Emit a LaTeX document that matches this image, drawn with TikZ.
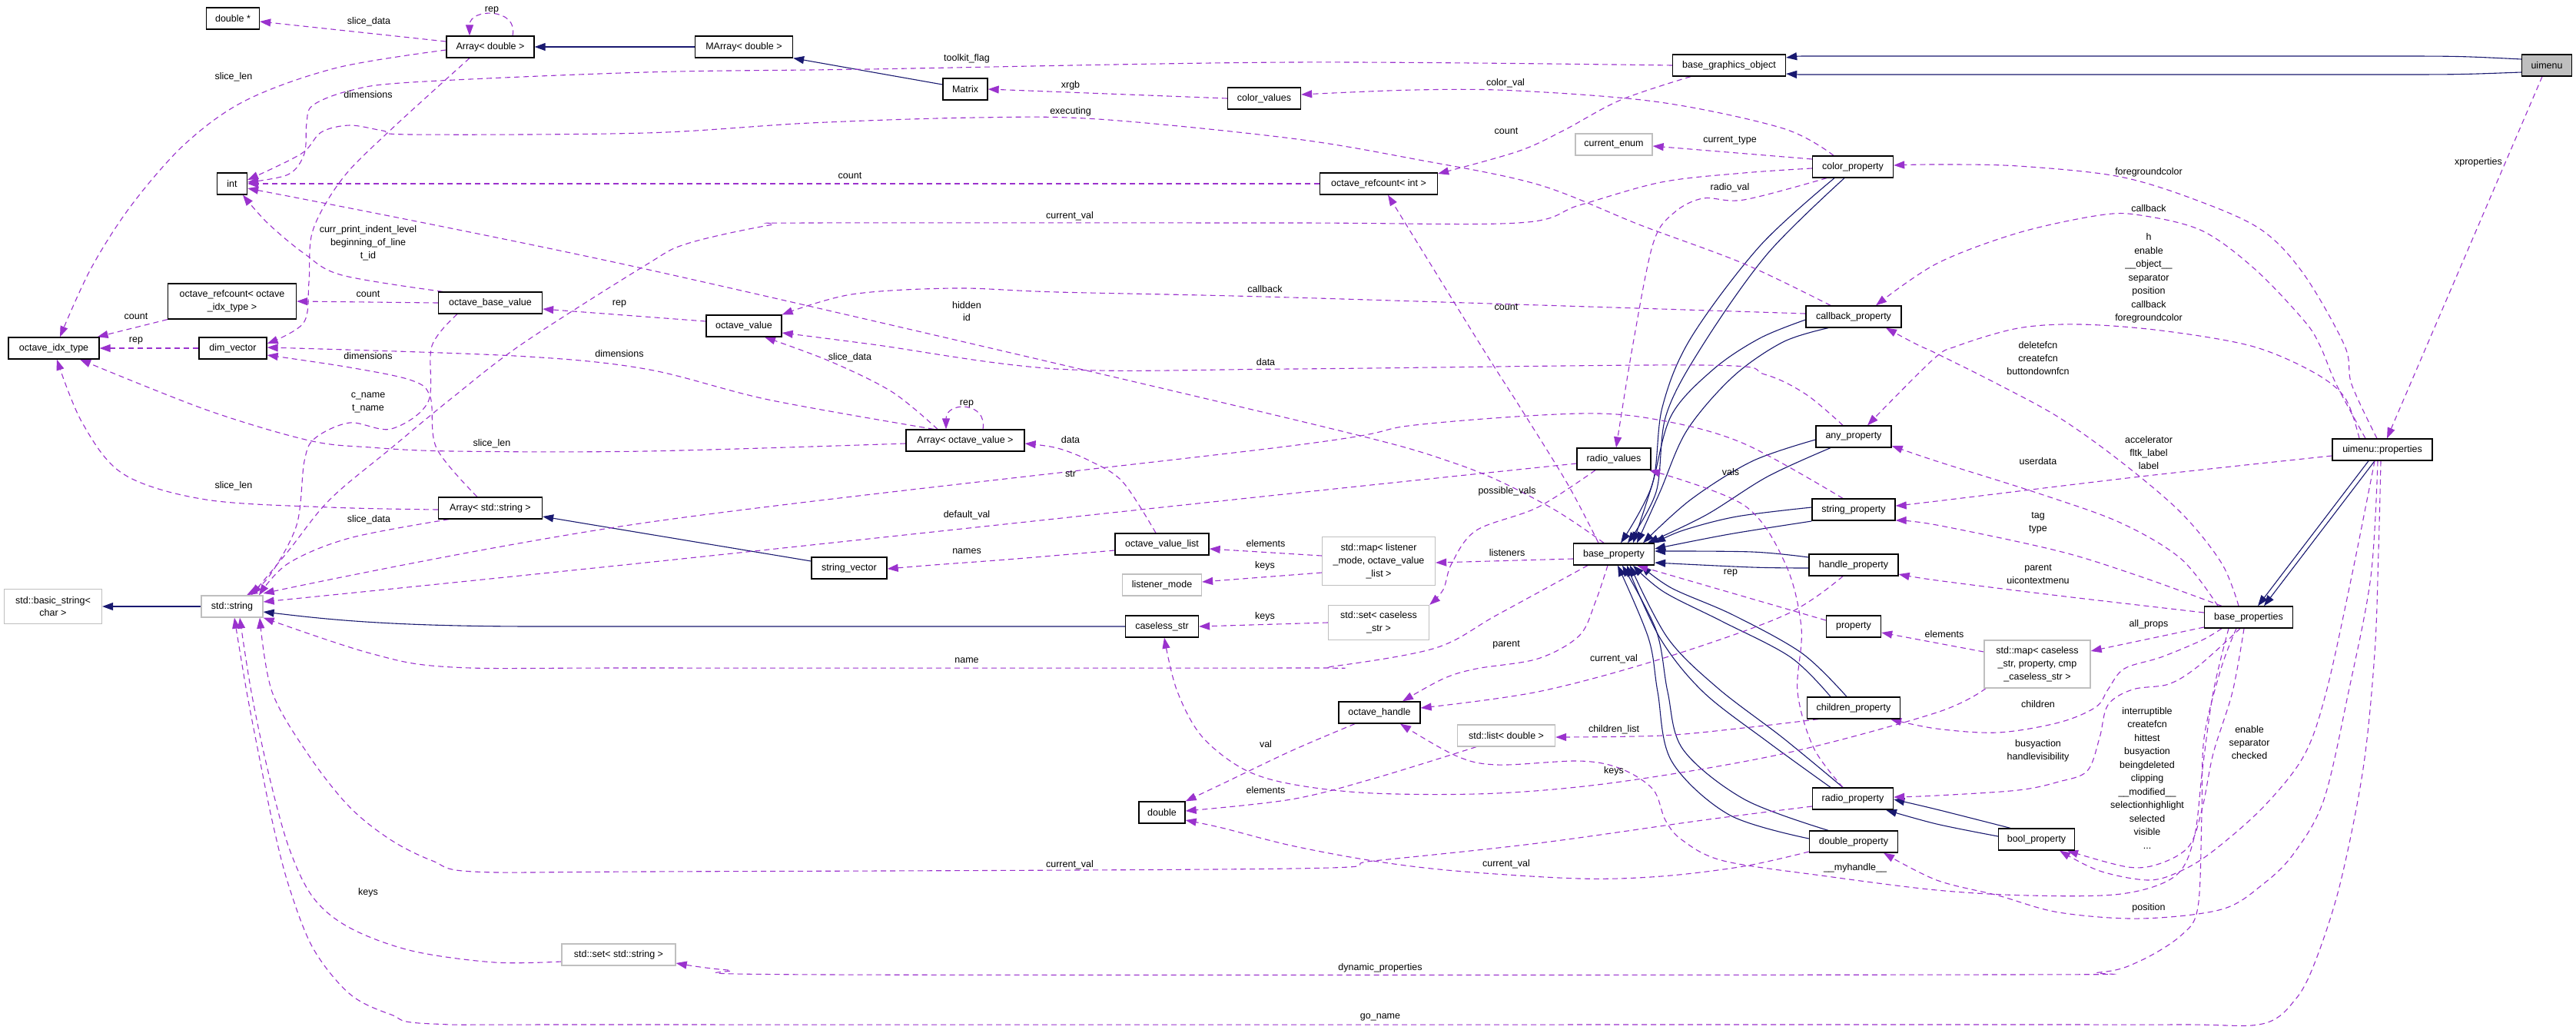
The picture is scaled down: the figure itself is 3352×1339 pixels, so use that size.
\documentclass[tikz,border=0pt]{standalone}
\usepackage{fontspec}
\setmainfont{Liberation Sans}
\usetikzlibrary{arrows.meta,backgrounds}
\definecolor{navyc}{HTML}{191970}
\definecolor{orchidc}{HTML}{9A32CD}
\definecolor{greyc}{HTML}{BFBFBF}
\newcommand{\dgfont}{\fontsize{12.5}{16.8}\selectfont}
\begin{document}
\begin{tikzpicture}[x=1pt,y=-1pt,font=\dgfont,
  cls/.style={draw=black,line width=1.3pt,fill=white,minimum height=28pt,inner sep=2pt,align=center},
  ucls/.style={cls,draw=greyc},
  inh/.style={draw=navyc,line width=1.1pt,-{Triangle[length=14pt,width=10pt]}},
  dep/.style={draw=orchidc,line width=1.1pt,dash pattern=on 7pt off 5pt,-{Triangle[length=14pt,width=10pt]}},
  lab/.style={inner sep=0pt,align=center},
  sm/.style={smooth,tension=0.55}]
\useasboundingbox (0,0) rectangle (3352,1339);

% ---------------- nodes ----------------
\node[cls,minimum width=69pt] (dstar) at (303,24) {double *};
\node[cls,minimum width=114pt] (arrd) at (638,61) {Array< double >};
\node[cls,minimum width=127pt] (marr) at (968,61) {MArray< double >};
\node[cls,minimum width=58pt] (matrix) at (1256,116) {Matrix};
\node[cls,minimum width=95pt] (colv) at (1645,128) {color\_values};
\node[cls,minimum width=147pt] (bgo) at (2250,85) {base\_graphics\_object};
\node[cls,minimum width=65pt,fill=greyc] (uimenu) at (3314,85) {uimenu};
\node[cls,minimum width=39pt] (int) at (302,239) {int};
\node[ucls,minimum width=100pt] (curenum) at (2100,188) {current\_enum};
\node[cls,minimum width=153pt] (rcint) at (1794,239) {octave\_refcount< int >};
\node[cls,minimum width=105pt] (colp) at (2411,217) {color\_property};
\node[cls,minimum width=167pt,minimum height=46pt] (rcidx) at (302,392) {octave\_refcount< octave\\\_idx\_type >};
\node[cls,minimum width=135pt] (obv) at (638,394) {octave\_base\_value};
\node[cls,minimum width=98pt] (ov) at (968,424) {octave\_value};
\node[cls,minimum width=124pt] (cbp) at (2412,412) {callback\_property};
\node[cls,minimum width=118pt] (idx) at (70,453) {octave\_idx\_type};
\node[cls,minimum width=88pt] (dimv) at (303,453) {dim\_vector};
\node[cls,minimum width=154pt] (aov) at (1256,573) {Array< octave\_value >};
\node[cls,minimum width=98pt] (anyp) at (2412,568) {any\_property};
\node[cls,minimum width=130pt] (uprops) at (3100,585) {uimenu::properties};
\node[cls,minimum width=96pt] (rv) at (2100,597) {radio\_values};
\node[cls,minimum width=135pt] (astr) at (638,661) {Array< std::string >};
\node[cls,minimum width=108pt] (strp) at (2412,663) {string\_property};
\node[cls,minimum width=122pt] (ovl) at (1512,708) {octave\_value\_list};
\node[cls,minimum width=105pt] (bp) at (2100,721) {base\_property};
\node[ucls,minimum width=147pt,minimum height=63pt] (lmap) at (1794,730) {std::map< listener\\\_mode, octave\_value\\\_list >};
\node[cls,minimum width=116pt] (hp) at (2412,735) {handle\_property};
\node[cls,minimum width=98pt] (sv) at (1105,739) {string\_vector};
\node[ucls,minimum width=103pt] (lm) at (1512,761) {listener\_mode};
\node[ucls,minimum width=127pt,minimum height=45pt] (bstr) at (69,789) {std::basic\_string<\\char >};
\node[ucls,minimum width=80pt] (str) at (302,789) {std::string};
\node[cls,minimum width=115pt] (bprops) at (2926,803) {base\_properties};
\node[cls,minimum width=95pt] (cstr) at (1512,815) {caseless\_str};
\node[ucls,minimum width=131pt,minimum height=45pt] (cset) at (1794,810) {std::set< caseless\\\_str >};
\node[cls,minimum width=71pt] (prop) at (2412,815) {property};
\node[ucls,minimum width=138pt,minimum height=62pt] (pmap) at (2651,864) {std::map< caseless\\\_str, property, cmp\\\_caseless\_str >};
\node[cls,minimum width=106pt] (oh) at (1795,927) {octave\_handle};
\node[cls,minimum width=121pt] (chp) at (2412,921) {children\_property};
\node[ucls,minimum width=127pt] (list) at (1960,957) {std::list< double >};
\node[cls,minimum width=105pt] (rp) at (2411,1039) {radio\_property};
\node[cls,minimum width=60pt] (dbl) at (1512,1057) {double};
\node[cls,minimum width=99pt] (bool) at (2650,1092) {bool\_property};
\node[cls,minimum width=115pt] (dp) at (2412,1095) {double\_property};
\node[ucls,minimum width=148pt] (sset) at (805,1242) {std::set< std::string >};

\begin{scope}[on background layer]
\fill[white] (0,0) rectangle (3352,1339);
% inheritance
\draw[inh] (marr.west) -- (arrd.east);
\draw[inh] ([yshift=6pt]matrix.west) -- (marr.south east);
\draw[inh] ([yshift=8pt]uimenu.west) .. controls (3200,73) .. (3100,73) -- (2380,73) .. controls (2340,73) .. ([yshift=10pt]bgo.east);
\draw[inh] ([yshift=-9pt]uimenu.west) .. controls (3200,97) .. (3100,97) -- (2380,97) .. controls (2340,97) .. ([yshift=-11pt]bgo.east);
\draw[inh] (str.west) -- (bstr.east);
\draw[inh] (cstr.west) -- (700,815) .. controls (500,815) and (420,805) .. ([yshift=-7pt]str.east);
\draw[inh] ([yshift=9pt]sv.west) -- ([yshift=-11pt]astr.east);
\draw[inh] plot[sm] coordinates {([xshift=-24pt]colp.south) (2290,320) (2200,440) (2163,530) (2150,630) ([xshift=9pt]bp.north)};
\draw[inh] plot[sm] coordinates {([xshift=-11pt]colp.south) (2300,330) (2215,450) (2168,540) (2155,640) ([xshift=18pt]bp.north)};
\draw[inh] plot[sm] coordinates {([yshift=-4pt]cbp.west) (2290,440) (2230,480) (2175,540) (2150,630) ([xshift=25pt]bp.north)};
\draw[inh] plot[sm] coordinates {([xshift=-33pt]cbp.south) (2320,445) (2255,490) (2195,560) (2160,640) ([xshift=30pt]bp.north)};
\draw[inh] plot[sm] coordinates {([yshift=-4pt]anyp.west) (2280,600) (2200,650) ([xshift=38pt]bp.north)};
\draw[inh] plot[sm] coordinates {([xshift=-30pt]anyp.south) (2300,620) (2220,670) ([xshift=44pt]bp.north)};
\draw[inh] plot[sm] coordinates {([yshift=3pt]strp.west) (2260,672) (2190,690) (bp.north east)};
\draw[inh] plot[sm] coordinates {([yshift=-15pt]strp.west) (2250,695) ([yshift=7pt]bp.east)};
\draw[inh] plot[sm] coordinates {([yshift=10pt]hp.west) (2280,718) ([yshift=4pt]bp.east)};
\draw[inh] plot[sm] coordinates {([yshift=-4pt]hp.west) (2280,738) ([yshift=-11pt]bp.east)};
\draw[inh] plot[sm] coordinates {([xshift=-30pt]chp.north) (2330,855) (2240,808) (2165,770) ([xshift=25pt]bp.south)};
\draw[inh] plot[sm] coordinates {([xshift=-9pt]chp.north) (2345,850) (2255,800) (2175,765) ([xshift=35pt]bp.south)};
\draw[inh] plot[sm] coordinates {([xshift=-29pt]rp.north) (2300,965) (2216,900) (2160,830) ([xshift=17pt]bp.south)};
\draw[inh] plot[sm] coordinates {([xshift=-13pt]rp.north) (2320,960) (2235,895) (2170,830) ([xshift=21pt]bp.south)};
\draw[inh] plot[sm] coordinates {([yshift=4pt]dp.west) (2250,1060) (2175,990) (2157,900) (2145,830) ([xshift=5pt]bp.south)};
\draw[inh] plot[sm] coordinates {([xshift=-33pt]dp.north) (2270,1040) (2190,975) (2170,900) (2155,820) ([xshift=11pt]bp.south)};
\draw[inh] plot[sm] coordinates {([xshift=-34pt]bool.north) (2520,1053) ([yshift=-1pt]rp.east)};
\draw[inh] plot[sm] coordinates {([yshift=4pt]bool.west) (2520,1072) ([xshift=43pt]rp.south)};
\draw[inh] ([xshift=-18pt]uprops.south) -- ([xshift=12pt]bprops.north);
\draw[inh] ([xshift=-10pt]uprops.south) -- ([xshift=20pt]bprops.north);

% usage (dashed)
\draw[dep] ([yshift=7pt]arrd.west) -- ([yshift=-4pt]dstar.east);
\draw[dep] ([xshift=29pt]arrd.north) .. controls (675,10) and (611,10) .. ([xshift=-27pt]arrd.north);
\draw[dep] plot[sm] coordinates {([yshift=-4pt]arrd.west) (439,88) (321,130) (241,187) (171,267) (118,350) ([xshift=8pt]idx.north)};
\draw[dep] plot[sm] coordinates {([xshift=-27pt]arrd.south) (504,173) (445,233) (407,300) (402,367) (395,420) ([yshift=6pt]dimv.east)};
\draw[dep] plot[sm] coordinates {(bgo.west) (1680,81) (1129,90) (840,94) (536,107) (455,118) (407,137) (399,160) (396,200) (375,227) ([yshift=2pt]int.east)};
\draw[dep] plot[sm] coordinates {([xshift=-30pt]cbp.north) (2269,343) (2135,293) (2001,240) (1841,207) (1680,180) (1429,155) (1269,153) (1054,160) (840,173) (536,175) (498,170) (455,163) (418,172) (392,200) ([yshift=5pt]int.east)};
\draw[dep] (rcint.west) -- (int.east);
\draw[dep] plot[sm] coordinates {([xshift=-62pt]obv.north) (445,358) (396,330) (348,290) ([xshift=14pt]int.south)};
\draw[dep] plot[sm] coordinates {([xshift=-13pt]bp.north) (2012,657) (1894,603) (1680,545) (840,350) ([yshift=-6pt]int.east)};
\draw[dep] (obv.west) -- (rcidx.east);
\draw[dep] (rcidx.south west) -- ([xshift=-3pt]idx.north east);
\draw[dep] (dimv.west) -- (idx.east);
\draw[dep] ([yshift=6pt]ov.west) -- ([yshift=-8pt]obv.east);
\draw[dep] plot[sm] coordinates {([xshift=-43pt]obv.south) (562,450) (557,523) (509,558) (455,550) (410,570) (396,600) (386,683) (350,750) ([xshift=19pt]str.north)};
\draw[dep] plot[sm] coordinates {([xshift=-17pt]astr.north) (568,583) (560,517) (536,495) (455,478) ([yshift=-9pt]dimv.east)};
\draw[dep] plot[sm] coordinates {([xshift=-41pt]aov.north) (1000,520) (840,480) (670,463) ([yshift=1pt]dimv.east)};
\draw[dep] plot[sm] coordinates {([xshift=-36pt]aov.north) (1161,510) (1080,470) ([xshift=27pt]ov.south)};
\draw[dep] ([xshift=23pt]aov.north) .. controls (1285,522) and (1231,522) .. ([xshift=-25pt]aov.north);
\draw[dep] plot[sm] coordinates {([yshift=-4pt]aov.west) (840,587) (589,587) (482,582) (402,573) (268,533) ([xshift=34pt]idx.south)};
\draw[dep] plot[sm] coordinates {([yshift=-2pt]astr.west) (429,660) (268,650) (161,617) (107,550) ([xshift=4pt]idx.south)};
\draw[dep] plot[sm] coordinates {([xshift=-54pt]astr.south) (455,700) (375,733) ([xshift=35pt]str.north)};
\draw[dep] plot[sm] coordinates {([yshift=-2pt]colp.west) (2269,225) (2162,237) (2055,267) (1975,290) (1680,290) (1054,290) (1001,293) (894,317) (840,345) (680,447) (589,517) (509,583) (429,650) (375,717) ([xshift=25pt]str.north)};
\draw[dep] plot[sm] coordinates {([xshift=-34pt]colp.south) (2269,260) (2216,258) (2178,277) (2151,317) (2125,447) ([xshift=3pt]rv.north)};
\draw[dep] plot[sm] coordinates {([xshift=-25pt]colp.north) (2320,167) (2160,133) (1973,118) (1840,117) ([yshift=5pt]colv.east)};
\draw[dep] ([yshift=10pt]colp.west) -- ([yshift=-2pt]curenum.east);
\draw[dep] plot[sm] coordinates {([xshift=-50pt]bgo.south) (2109,130) (2034,170) (1975,197) ([yshift=13pt]rcint.east)};
\draw[dep] (colv.west) -- (matrix.east);
\draw[dep] plot[sm] coordinates {([xshift=-20pt]bp.north) (2040,630) (1980,533) (1926,448) ([xshift=12pt]rcint.south)};
\draw[dep] plot[sm] coordinates {([yshift=4pt]cbp.west) (1680,387) (1376,380) (1242,375) (1108,383) (ov.north east)};
\draw[dep] plot[sm] coordinates {([xshift=-14pt]anyp.north) (2350,513) (2296,487) (2216,475) (1680,480) (1376,480) (1135,448) ([yshift=-9pt]ov.east)};
\draw[dep] plot[sm] coordinates {([xshift=-8pt]ovl.north) (1461,627) (1419,600) (1376,583) ([yshift=-4pt]aov.east)};
\draw[dep] plot[sm] coordinates {([yshift=-8pt]ovl.west) (1322,727) (1215,735) ([yshift=-1pt]sv.east)};
\draw[dep] plot[sm] coordinates {([xshift=-14pt]strp.north) (2269,577) (2162,547) (2055,538) (1841,553) (1680,580) (840,680) ([yshift=17pt]str.east)};
\draw[dep] plot[sm] coordinates {([yshift=-6pt]rv.west) (1680,642) (840,732) ([yshift=6pt]str.east)};
\draw[dep] plot[sm] coordinates {([xshift=-34pt]bp.south) (1948,800) (1868,843) (1734,867) (1680,869) (840,869) (589,868) (482,850) (str.south east)};
\draw[dep] ([yshift=-6pt]bp.west) -- ([yshift=-2pt]lmap.east);
\draw[dep] plot[sm] coordinates {([xshift=-24pt]rv.south) (2001,660) (1921,690) (1889,733) (1878,767) (cset.north east)};
\draw[dep] ([yshift=-15pt]lmap.west) -- ([yshift=4pt]lm.east);
\draw[dep] ([yshift=7pt]lmap.west) -- ([yshift=-6pt]ovl.east);
\draw[dep] (cset.west) -- (cstr.east);
\draw[dep] plot[sm] coordinates {([xshift=-67pt]pmap.south) (2520,927) (2323,980) (2109,1017) (1948,1032) (1787,1032) (1680,1020) (1617,1000) (1563,957) (1531,897) ([xshift=3pt]cstr.south)};
\draw[dep] ([yshift=-13pt]bprops.west) -- ([yshift=17pt]pmap.east);
\draw[dep] ([yshift=16pt]pmap.west) -- ([yshift=-8pt]prop.east);
\draw[dep] ([yshift=8pt]prop.west) -- ([xshift=30pt]bp.south);
\draw[dep] plot[sm] coordinates {([xshift=-13pt]rp.north) (2360,973) (2339,900) (2344,817) (2323,733) (2269,657) ([xshift=46pt]rv.south)};
\draw[dep] plot[sm] coordinates {([xshift=-14pt]hp.south) (2323,800) (2162,857) (2001,900) ([yshift=6pt]oh.east)};
\draw[dep] plot[sm] coordinates {([xshift=-8pt]bp.south) (2076,783) (2055,827) (2001,857) (1921,870) (1878,883) ([xshift=30pt]oh.north)};
\draw[dep] plot[sm] coordinates {([xshift=-46pt]chp.south) (2269,947) (2162,957) ([yshift=-2pt]list.east)};
\draw[dep] plot[sm] coordinates {([xshift=-32pt]oh.south) (1680,977) (1590,1020) (dbl.north east)};
\draw[dep] plot[sm] coordinates {([xshift=-39pt]list.south) (1787,1013) (1680,1040) ([yshift=2pt]dbl.east)};
\draw[dep] plot[sm] coordinates {([yshift=-13pt]dp.west) (2269,1127) (2162,1140) (2055,1143) (1894,1133) (1787,1120) (1680,1100) (1590,1077) ([yshift=-10pt]dbl.east)};
\draw[dep] plot[sm] coordinates {([yshift=-10pt]rp.west) (2216,1067) (2001,1097) (1787,1120) (1680,1130) (840,1134) (616,1134) (563,1120) (509,1093) (455,1050) (402,983) (354,900) ([xshift=36pt]str.south)};
\draw[dep] plot[sm] coordinates {([yshift=-9pt]sset.west) (643,1252) (536,1237) (455,1207) (407,1167) (375,1100) (348,1000) (327,900) ([xshift=10pt]str.south)};
\draw[dep] plot[sm] coordinates {([xshift=-2pt]uprops.south) (3095,717) (3090,850) (3075,1000) (3045,1150) (3013,1250) (2987,1300) (2944,1332) (2838,1333) (2520,1333) (840,1333) (563,1332) (509,1320) (455,1293) (407,1233) (375,1150) (354,1067) (337,983) (321,900) ([xshift=3pt]str.south)};
\draw[dep] plot[sm] coordinates {([xshift=-16pt]bprops.south) (2890,870) (2868,960) (2865,1060) (2860,1180) (2838,1217) (2785,1250) (2732,1265) (2600,1268) (1081,1268) (947,1262) ([yshift=-11pt]sset.east)};
\draw[dep] plot[sm] coordinates {([xshift=-6pt]bprops.south) (2905,900) (2880,980) (2866,1050) (2849,1100) (2812,1123) (2769,1128) ([xshift=40pt]bool.south)};
\draw[dep] plot[sm] coordinates {([xshift=-10pt]uprops.south) (3060,750) (3027,900) (2998,983) (2945,1050) (2880,1107) (2838,1133) (2796,1145) (2732,1133) ([xshift=30pt]bool.south)};
\draw[dep] plot[sm] coordinates {([xshift=-6pt]uprops.south) (3085,750) (3056,900) (3024,1040) (2985,1110) (2945,1150) (2891,1183) (2785,1195) (2679,1187) (2600,1165) (2520,1145) ([xshift=39pt]dp.south)};
\draw[dep] plot[sm] coordinates {([xshift=-26pt]bprops.south) (2880,900) (2866,1000) (2855,1090) (2830,1140) (2760,1163) (2640,1165) (2520,1158) (2377,1140) (2243,1120) (2189,1093) (2167,1067) (2151,1027) (2109,1000) (2055,990) (1948,995) (1894,983) ([xshift=27pt]oh.south)};
\draw[dep] plot[sm] coordinates {([xshift=-11pt]bprops.south) (2860,867) (2822,890) (2775,897) (2743,917) (2732,960) (2716,1003) (2679,1017) (2626,1028) (2520,1035) ([yshift=2pt]rp.east)};
\draw[dep] plot[sm] coordinates {([xshift=-35pt]bprops.south) (2865,833) (2812,855) (2764,870) (2743,897) (2727,920) (2679,940) (2600,953) (2520,948) ([xshift=48pt]chp.south)};
\draw[dep] plot[sm] coordinates {([xshift=-13pt]bprops.north) (2891,733) (2838,667) (2759,600) (2679,543) (2600,500) (2520,460) (2494,448) ([xshift=42pt]cbp.south)};
\draw[dep] plot[sm] coordinates {([xshift=-40pt]bprops.north) (2838,727) (2759,680) (2653,642) (2520,600) ([yshift=-12pt]anyp.east)};
\draw[dep] plot[sm] coordinates {([xshift=-35pt]bprops.north) (2785,750) (2679,717) (2520,683) ([yshift=-14pt]strp.east)};
\draw[dep] plot[sm] coordinates {([yshift=6pt]bprops.west) (2679,775) (2520,755) ([yshift=-12pt]hp.east)};
\draw[dep] plot[sm] coordinates {([yshift=-8pt]uprops.west) (2785,620) (2520,652) ([yshift=5pt]strp.east)};
\draw[dep] plot[sm] coordinates {([xshift=-7pt]uprops.north) (3060,500) (3051,450) (2998,357) (2944,300) (2865,263) (2759,230) (2626,216) (2520,214) ([yshift=2pt]colp.east)};
\draw[dep] plot[sm] coordinates {([xshift=-22pt]uprops.north) (3040,500) (3019,450) (2998,417) (2934,350) (2865,300) (2785,280) (2732,280) (2626,303) (2520,343) ([xshift=29pt]cbp.north)};
\draw[dep] plot[sm] coordinates {([xshift=-30pt]uprops.north) (3051,517) (3008,483) (2929,450) (2812,430) (2706,422) (2626,427) (2547,450) (2515,468) ([xshift=18pt]anyp.north)};
\draw[dep] ([xshift=-6pt]uimenu.south) -- ([xshift=6pt]uprops.north);
\end{scope}

% ---------------- edge labels ----------------
\node[lab] (t1) at (480,28) {slice\_data};
\node[lab] (t2) at (640,13) {rep};
\node[lab] (t3) at (304,100) {slice\_len};
\node[lab] (t4) at (479,123) {dimensions};
\node[lab] (t5) at (1258,76) {toolkit\_flag};
\node[lab] (t6) at (1393,145) {executing};
\node[lab] (t7) at (1106,229) {count};
\node[lab] (t8) at (479,316) {curr\_print\_indent\_level\\beginning\_of\_line\\t\_id};
\node[lab] (t9) at (1258,405) {hidden\\id};
\node[lab] (t10) at (479,383) {count};
\node[lab] (t11) at (177,412) {count};
\node[lab] (t12) at (177,443) {rep};
\node[lab] (t13) at (806,395) {rep};
\node[lab] (t14) at (479,524) {c\_name\\t\_name};
\node[lab] (t15) at (479,463) {dimensions};
\node[lab] (t16) at (806,460) {dimensions};
\node[lab] (t17) at (1106,465) {slice\_data};
\node[lab] (t18) at (1258,525) {rep};
\node[lab] (t19) at (640,577) {slice\_len};
\node[lab] (t20) at (304,632) {slice\_len};
\node[lab] (t21) at (480,676) {slice\_data};
\node[lab] (t22) at (1392,281) {current\_val};
\node[lab] (t23) at (2251,244) {radio\_val};
\node[lab] (t24) at (1959,108) {color\_val};
\node[lab] (t25) at (2251,183) {current\_type};
\node[lab] (t26) at (1960,171) {count};
\node[lab] (t27) at (1393,111) {xrgb};
\node[lab] (t28) at (1960,400) {count};
\node[lab] (t29) at (1646,376) {callback};
\node[lab] (t30) at (1647,471) {data};
\node[lab] (t31) at (1393,572) {data};
\node[lab] (t32) at (1258,717) {names};
\node[lab] (t33) at (1393,617) {str};
\node[lab] (t34) at (1258,670) {default\_val};
\node[lab] (t35) at (1258,859) {name};
\node[lab] (t36) at (1961,719) {listeners};
\node[lab] (t37) at (1961,639) {possible\_vals};
\node[lab] (t38) at (1646,736) {keys};
\node[lab] (t39) at (1647,707) {elements};
\node[lab] (t40) at (1646,802) {keys};
\node[lab] (t41) at (2100,1003) {keys};
\node[lab] (t42) at (2796,812) {all\_props};
\node[lab] (t43) at (2530,825) {elements};
\node[lab] (t44) at (2252,745) {rep};
\node[lab] (t45) at (2252,614) {vals};
\node[lab] (t46) at (2100,857) {current\_val};
\node[lab] (t47) at (1960,839) {parent};
\node[lab] (t48) at (2100,949) {children\_list};
\node[lab] (t49) at (1647,968) {val};
\node[lab] (t50) at (1647,1028) {elements};
\node[lab] (t51) at (1960,1124) {current\_val};
\node[lab] (t52) at (1392,1125) {current\_val};
\node[lab] (t53) at (479,1161) {keys};
\node[lab] (t54) at (1796,1323) {go\_name};
\node[lab] (t55) at (1796,1259) {dynamic\_properties};
\node[lab] (t56) at (2414,1129) {\_\_myhandle\_\_};
\node[lab] (t57) at (2796,1181) {position};
\node[lab] (t58) at (2927,966) {enable\\separator\\checked};
\node[lab,font=\fontsize{12.5}{17.5}\selectfont] (t59) at (2794,1012) {interruptible\\createfcn\\hittest\\busyaction\\beingdeleted\\clipping\\\_\_modified\_\_\\selectionhighlight\\selected\\visible\\...};
\node[lab] (t60) at (2652,977) {busyaction\\handlevisibility};
\node[lab] (t61) at (2652,916) {children};
\node[lab] (t62) at (2652,747) {parent\\uicontextmenu};
\node[lab] (t63) at (2652,680) {tag\\type};
\node[lab] (t64) at (2652,600) {userdata};
\node[lab] (t65) at (2796,589) {accelerator\\fltk\_label\\label};
\node[lab] (t66) at (2652,466) {deletefcn\\createfcn\\buttondownfcn};
\node[lab,font=\fontsize{12.5}{17.5}\selectfont] (t67) at (2796,362) {h\\enable\\\_\_object\_\_\\separator\\position\\callback\\foregroundcolor};
\node[lab] (t68) at (2796,271) {callback};
\node[lab] (t69) at (2796,224) {foregroundcolor};
\node[lab] (t70) at (3225,211) {xproperties};
\end{tikzpicture}
\end{document}
